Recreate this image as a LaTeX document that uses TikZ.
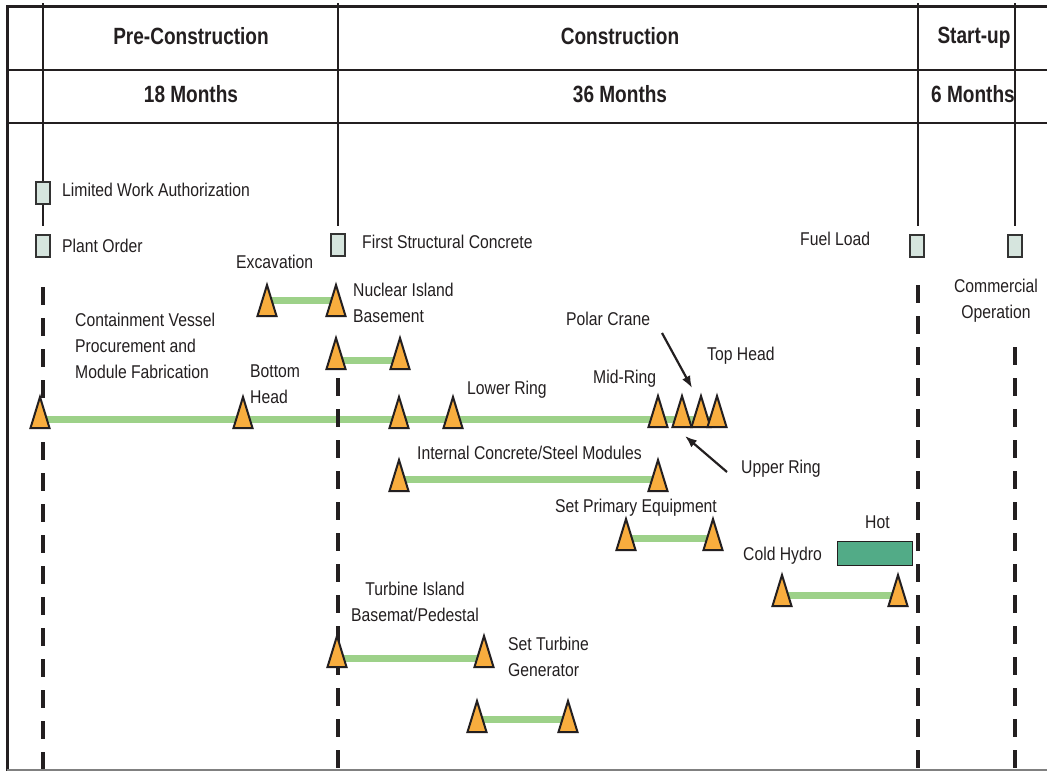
\documentclass[tikz,border=0pt]{standalone}
\usepackage{fontspec}
\setmainfont{Liberation Sans}[FakeStretch=0.85]
\newfontfamily\hdrfamily{Liberation Sans}[FakeStretch=0.81]
\usetikzlibrary{arrows.meta,calc}
\definecolor{ink}{HTML}{231F20}
\definecolor{trifill}{HTML}{F8AD3E}
\definecolor{barc}{HTML}{9DD189}
\definecolor{boxfill}{HTML}{D6E5DE}
\definecolor{boxedge}{HTML}{333333}
\definecolor{hotfill}{HTML}{52AB87}
\pgfdeclarelayer{bg}
\pgfsetlayers{bg,main}
\newcommand\mktri[3]{\coordinate (#1) at (#2,#3);
  \draw[tri] (#1) +(-9.5,0) -- +(0,-31) -- +(9.5,0) -- cycle;}
\begin{document}
\begin{tikzpicture}[x=1pt,y=-1pt,
  lbl/.style={font=\fontsize{18.5}{26}\selectfont, inner sep=0pt, text=ink},
  hdr/.style={font=\hdrfamily\bfseries\fontsize{23.5}{28}\selectfont, inner sep=0pt, text=ink, anchor=base},
  ms/.style={draw=boxedge, fill=boxfill, line width=1.5pt, minimum width=14pt, minimum height=22pt, inner sep=0pt},
  hotbox/.style={draw=ink, fill=hotfill, line width=1.8pt, minimum width=75pt, minimum height=24pt, inner sep=0pt},
  bar/.style={draw=barc, line width=7pt},
  tri/.style={draw=ink, fill=trifill, line width=2pt, line join=miter},
  dline/.style={draw=ink, line width=4pt, dash pattern=on 18pt off 13pt},
  sline/.style={draw=ink, line width=1.8pt},
  frame/.style={draw=ink, line width=3pt},
  rule/.style={draw=ink, line width=2pt},
  arr/.style={draw=ink, line width=2.2pt, -{Latex[length=12pt,width=9pt]}},
]
\useasboundingbox (0,0) rectangle (1047,771);
\begin{pgfonlayer}{bg}
\fill[white] (0,0) rectangle (1047,771);
\end{pgfonlayer}

% frame and header rules
\coordinate (fTR) at (1047,6);
\coordinate (fTL) at (7,6);
\coordinate (fBL) at (7,771);
\draw[frame] (fTR) -- (fTL) -- (fBL);
\coordinate (bL) at (7,770);
\coordinate (bR) at (1047,770);
\draw[draw=gray, line width=1.5pt] (bL) -- (bR);
\coordinate (r1L) at (7,70);
\coordinate (r1R) at (1047,70);
\coordinate (r2L) at (7,123);
\coordinate (r2R) at (1047,123);
\draw[rule] (r1L) -- (r1R);
\draw[rule] (r2L) -- (r2R);

% solid verticals
\foreach \n/\x in {v1/43, v2/338, v3/918, v4/1015}{
  \coordinate (\n t) at (\x,3);
  \coordinate (\n b) at (\x,226);
  \draw[sline] (\n t) -- (\n b);
}

% headers
\node[hdr] (hpre) at (191,44) {Pre-Construction};
\node[hdr] (hcon) at (620,44) {Construction};
\node[hdr] (hsu) at (974,43) {Start-up};
\node[hdr] (m18) at (191,102) {18 Months};
\node[hdr] (m36) at (620,102) {36 Months};
\node[hdr] (m6) at (973,102) {6 Months};

% milestone boxes
\node[ms] (lwa) at (43,193) {};
\node[ms] (po) at (43,246) {};
\node[ms] (fsc) at (338,245) {};
\node[ms] (fl) at (917,246) {};
\node[ms] (co) at (1015,246) {};

% labels
\node[lbl, anchor=base west] (tlwa) at (62,196) {Limited Work Authorization};
\node[lbl, anchor=base west] (tpo) at (62,252) {Plant Order};
\node[lbl, anchor=base west] (tfsc) at (362,248) {First Structural Concrete};
\node[lbl, anchor=base west] (tfl) at (800,245) {Fuel Load};
\node[lbl, anchor=north, align=center] (tco) at (996,278.5) {Commercial\\Operation};
\node[lbl, anchor=base west] (texc) at (236,268) {Excavation};
\node[lbl, anchor=north west, align=left] (tnib) at (353,283) {Nuclear Island\\Basement};
\node[lbl, anchor=north west, align=left] (tcv) at (75,313) {Containment Vessel\\Procurement and\\Module Fabrication};
\node[lbl, anchor=north west, align=left] (tbh) at (250,365) {Bottom\\Head};
\node[lbl, anchor=base west] (tlr) at (467,394) {Lower Ring};
\node[lbl, anchor=base west] (tmr) at (593,383) {Mid-Ring};
\node[lbl, anchor=base west] (tpc) at (566,325) {Polar Crane};
\node[lbl, anchor=base west] (tth) at (707,360) {Top Head};
\node[lbl, anchor=base west] (tur) at (741,473) {Upper Ring};
\node[lbl, anchor=base west] (tic) at (417,459) {Internal Concrete/Steel Modules};
\node[lbl, anchor=base west] (tspe) at (555,512) {Set Primary Equipment};
\node[lbl, anchor=base west] (thot) at (865,528) {Hot};
\node[lbl, anchor=base west] (tch) at (743,560) {Cold Hydro};
\node[lbl, anchor=north, align=center] (tti) at (415,582) {Turbine Island\\Basemat/Pedestal};
\node[lbl, anchor=north west, align=left] (tstg) at (508,637) {Set Turbine\\Generator};

% hot functional test box
\node[hotbox] (hot) at (875,553.5) {};

% triangles
\mktri{a1}{267}{316}\mktri{a2}{336}{316}
\mktri{b1}{336}{369}\mktri{b2}{400}{369}
\mktri{c1}{40}{428}\mktri{c2}{243}{428}\mktri{c3}{399}{428}\mktri{c4}{453}{428}
\mktri{c5}{658}{427}\mktri{c6}{682}{427}\mktri{c7}{701}{427}\mktri{c8}{717}{427}
\mktri{d1}{399}{491}\mktri{d2}{658}{491}
\mktri{e1}{626}{550}\mktri{e2}{713}{550}
\mktri{f1}{782}{606}\mktri{f2}{898}{606}
\mktri{g1}{337}{667}\mktri{g2}{484}{667}
\mktri{h1}{477}{732}\mktri{h2}{568}{732}

\begin{pgfonlayer}{bg}
\draw[bar] ($(a1)+(0,-16)$) -- ($(a2)+(0,-16)$);
\draw[bar] ($(b1)+(0,-9)$) -- ($(b2)+(0,-9)$);
\draw[bar] ($(c1)+(0,-9)$) -- ($(c8)+(0,-8)$);
\draw[bar] ($(d1)+(0,-12)$) -- ($(d2)+(0,-12)$);
\draw[bar] ($(e1)+(0,-12)$) -- ($(e2)+(0,-12)$);
\draw[bar] ($(f1)+(0,-11)$) -- ($(f2)+(0,-11)$);
\draw[bar] ($(g1)+(0,-9)$) -- ($(g2)+(0,-9)$);
\draw[bar] ($(h1)+(0,-13)$) -- ($(h2)+(0,-13)$);
% dashed time lines
\foreach \n/\x/\y in {d1l/43/287, d2l/338/378, d3l/918/285, d4l/1015/347}{
  \coordinate (\n s) at (\x,\y);
  \coordinate (\n e) at (\x,771);
  \draw[dline] (\n s) -- (\n e);
}
\end{pgfonlayer}

% arrows
\coordinate (pcs) at (662,333);
\coordinate (pce) at (692,388);
\draw[arr] (pcs) -- (pce);
\coordinate (urs) at (727,472);
\coordinate (ure) at (685,436);
\draw[arr] (urs) -- (ure);
\end{tikzpicture}
\end{document}
